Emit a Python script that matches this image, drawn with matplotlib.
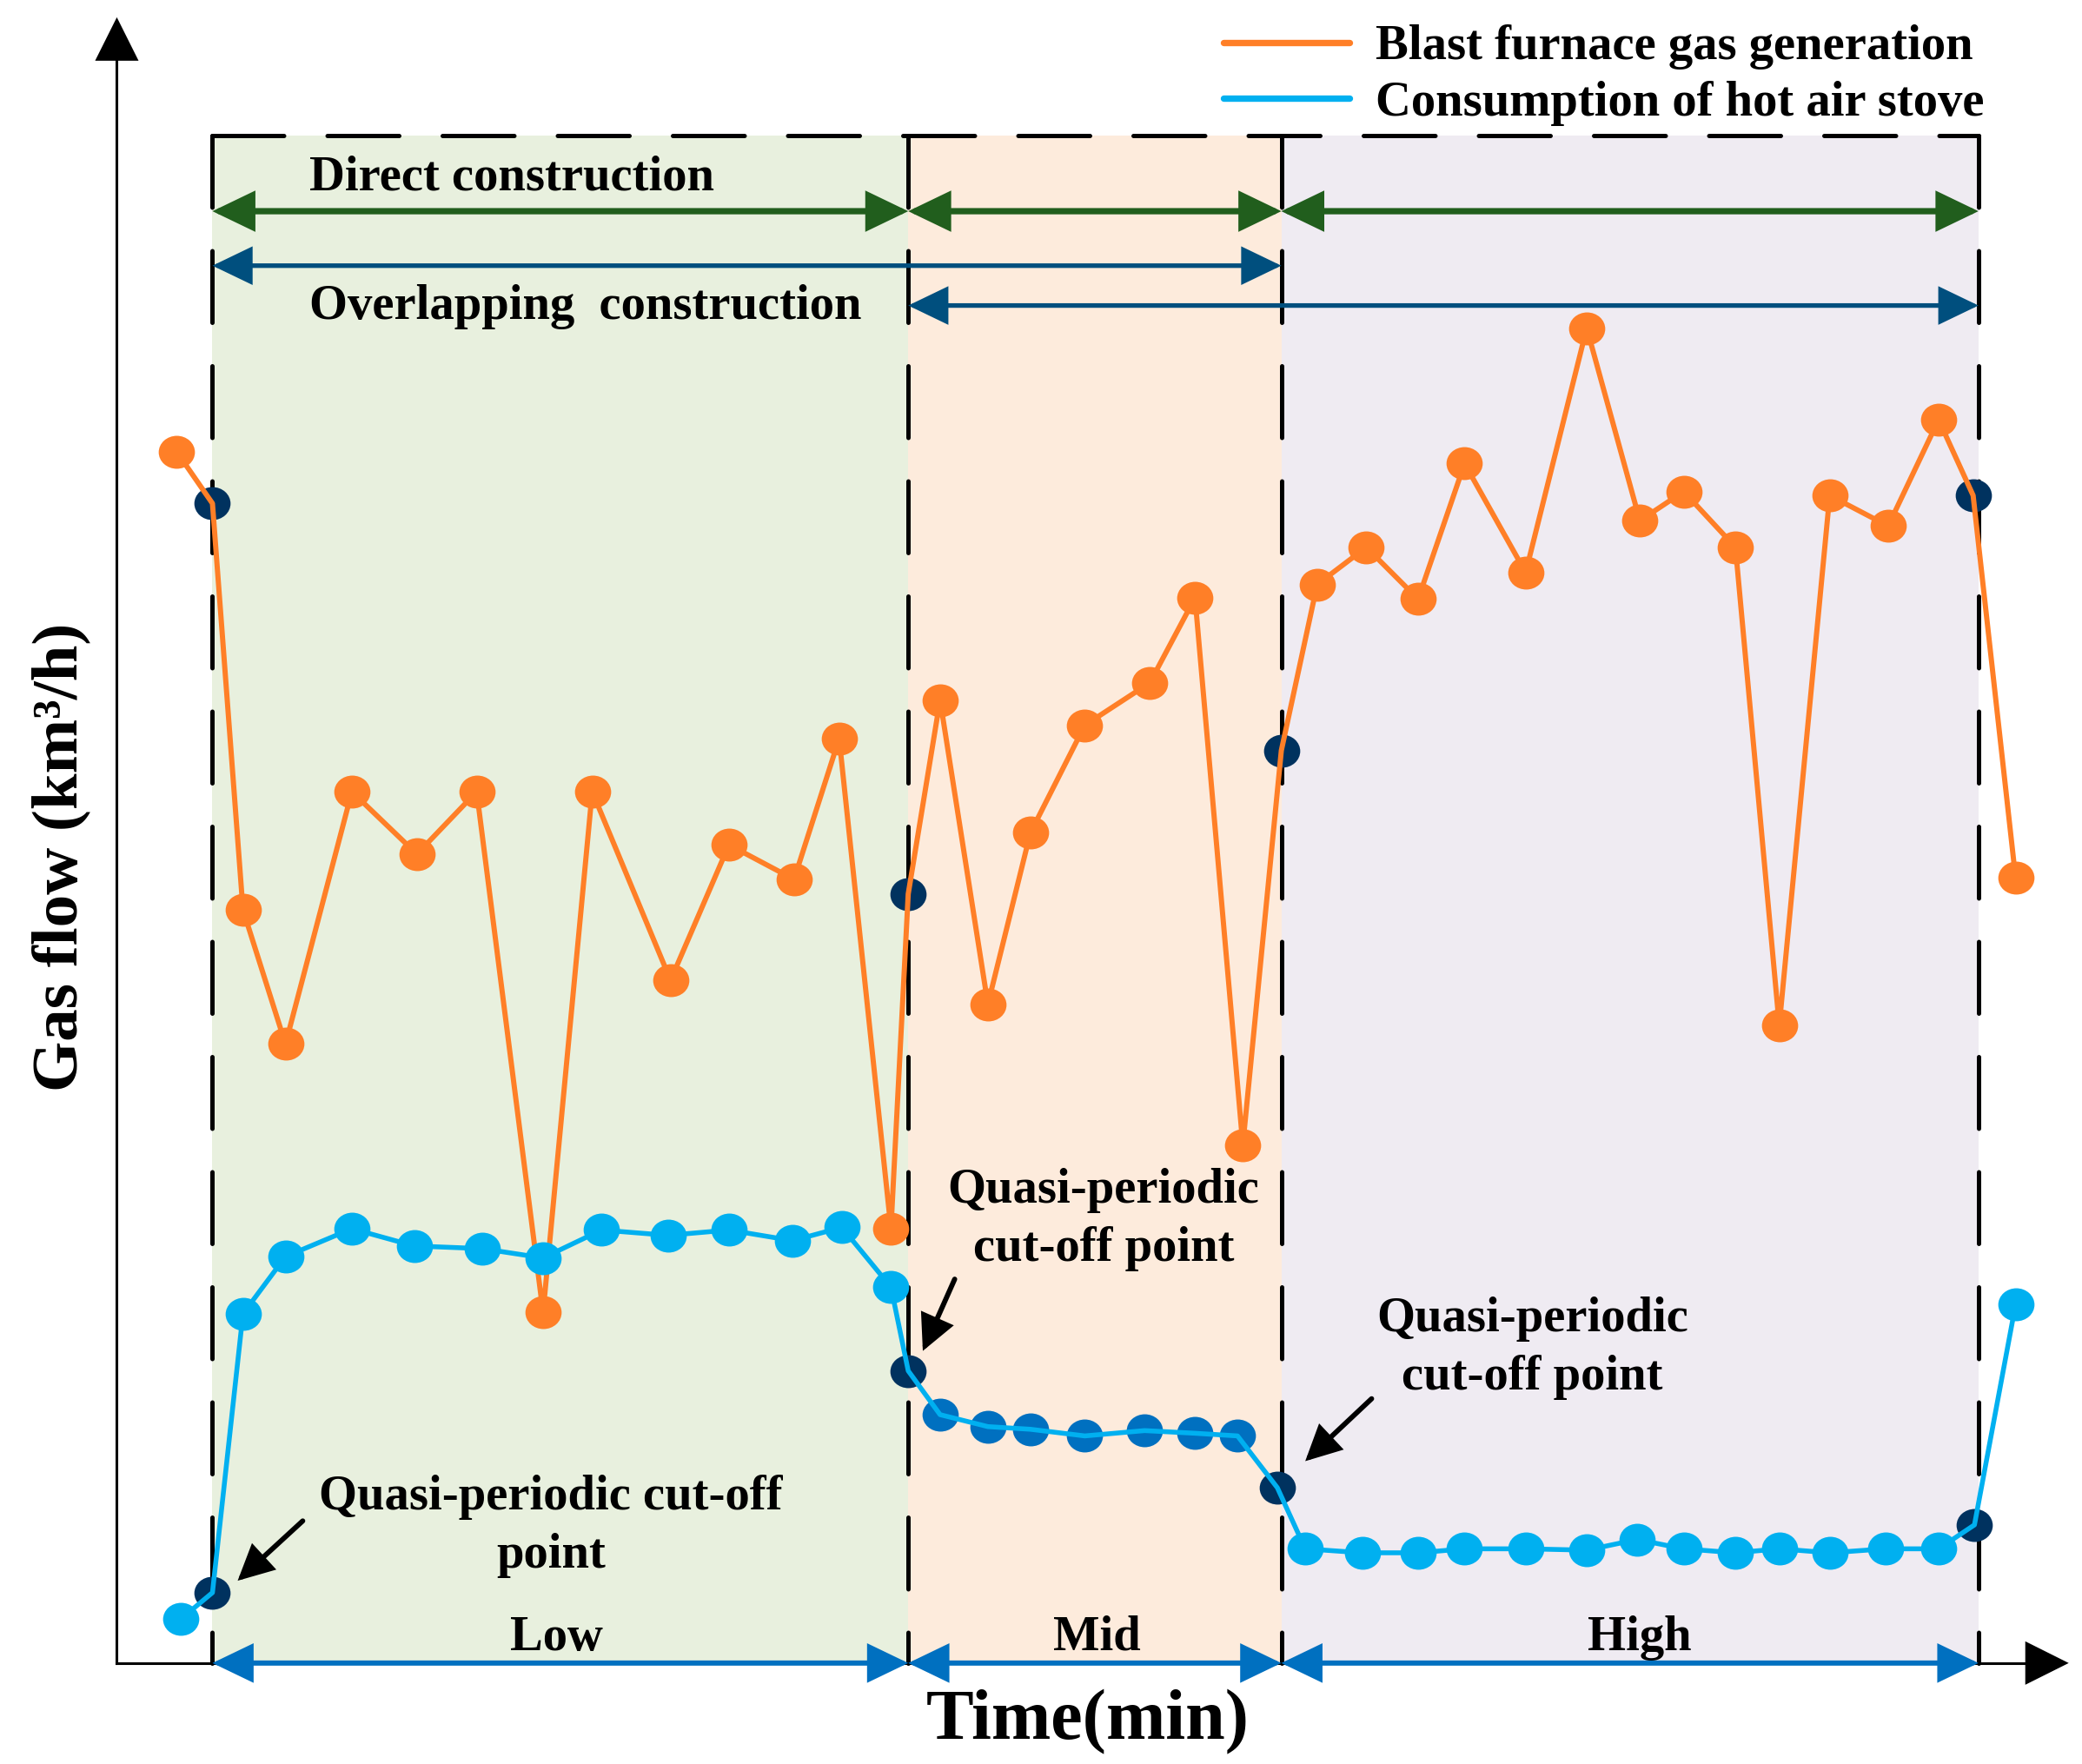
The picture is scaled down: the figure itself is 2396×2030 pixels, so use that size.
import matplotlib
matplotlib.use("Agg")
import matplotlib.pyplot as plt
from matplotlib.patches import FancyArrowPatch
from matplotlib.lines import Line2D
from matplotlib.path import Path
from matplotlib.transforms import Affine2D

plt.rcParams["font.family"] = ["Liberation Serif", "DejaVu Serif"]
plt.rcParams["font.weight"] = "bold"

# blast furnace gas generation (time in min, flow in km3/h)
t_gen = [4.5, 7.2, 9.5, 12.7, 17.7, 22.6, 27.1, 32.1, 35.8, 41.7, 46.1, 51.0, 54.4, 58.3,
         59.6, 62.0, 65.6, 68.8, 72.9, 77.8, 81.2, 84.8, 87.7, 90.4, 94.1, 98.0, 101.5,
         106.1, 110.7, 114.7, 118.0, 121.9, 125.2, 129.0, 133.4, 137.2, 139.8, 143.0]
gen = [91.2, 87.3, 56.7, 46.6, 65.6, 60.9, 65.6, 26.4, 65.6, 51.4, 61.6, 59.0, 69.6, 32.7,
       57.9, 72.5, 49.6, 62.5, 70.6, 73.8, 80.2, 39.0, 68.7, 81.2, 84.0, 80.1, 90.3,
       82.1, 100.5, 86.0, 88.2, 84.0, 48.0, 87.9, 85.6, 93.6, 87.9, 59.1]

# consumption of hot air stove
t_use = [4.8, 7.2, 9.5, 12.7, 17.7, 22.4, 27.5, 32.1, 36.5, 41.5, 46.1, 50.9, 54.6, 58.3,
         59.6, 62.0, 65.6, 68.8, 72.9, 77.4, 81.2, 84.4, 87.4, 89.5, 93.8, 98.0, 101.5,
         106.1, 110.7, 114.5, 118.0, 121.9, 125.2, 129.0, 133.2, 137.2, 139.9, 143.0]
use = [3.3, 5.3, 26.3, 30.6, 32.7, 31.4, 31.2, 30.5, 32.6, 32.2, 32.6, 31.8, 32.8, 28.3,
       22.0, 18.7, 17.8, 17.6, 17.1, 17.5, 17.3, 17.1, 13.2, 8.6, 8.3, 8.3, 8.6,
       8.6, 8.5, 9.3, 8.6, 8.3, 8.6, 8.3, 8.6, 8.6, 10.4, 27.0]

cut_idx = [1, 14, 22, 36]          # quasi-periodic cut-off points
mid_idx = list(range(15, 22))      # mid-load points of the stove series

bounds = [7.2, 59.6, 87.7, 140.2]
region_top = 115.0
regions = ["Low", "Mid", "High"]
region_colors = ["#E8F0DE", "#FDEBDC", "#EFEBF2"]
labels = ["Blast furnace gas generation", "Consumption of hot air stove"]

c_gen = "#FF7F27"
c_use = "#00B0F0"
c_mid = "#0070C0"
c_cut = "#00325F"
c_green = "#215E1D"
c_over = "#004F7E"

fig = plt.figure(figsize=(23.96, 20.30), dpi=100)
ax = fig.add_axes([0, 0, 1, 1])
ax.set_xlim(-8.8, 148.0)
ax.set_ylim(-7.6, 125.2)
ax.axis("off")

ell = Path.unit_circle().transformed(Affine2D().scale(1.0, 0.91))
ms = 30

# shaded regions and dashed borders
for i in range(3):
    ax.fill_between([bounds[i], bounds[i + 1]], 0, region_top, color=region_colors[i], lw=0, zorder=0)
dash = dict(color="black", lw=3.6, ls=(0, (16.5, 10)), dash_capstyle="round", zorder=2)
for b in bounds:
    ax.plot([b, b], [region_top, 0], **dash)
ax.plot([bounds[0], bounds[-1]], [region_top, region_top], **dash)

# axes with arrow heads
ax.plot([0, 0], [0, 121], color="black", lw=2.2, zorder=2)
ax.plot([0, 145], [0, 0], color="black", lw=2.2, zorder=2)
ax.add_patch(FancyArrowPatch((0, 118), (0, 123.9), arrowstyle="-|>,head_length=36,head_width=18",
                             mutation_scale=1, color="black", lw=0, shrinkA=0, shrinkB=0, zorder=2))
ax.add_patch(FancyArrowPatch((141, 0), (147.0, 0), arrowstyle="-|>,head_length=36,head_width=18",
                             mutation_scale=1, color="black", lw=0, shrinkA=0, shrinkB=0, zorder=2))


def darrow(x0, x1, y, color, lw):
    ax.add_patch(FancyArrowPatch((x0, y), (x1, y), arrowstyle="<|-|>,head_length=27,head_width=13",
                                 mutation_scale=1, color=color, lw=lw, shrinkA=0, shrinkB=0,
                                 joinstyle="miter", zorder=6))


for i in range(3):
    darrow(bounds[i], bounds[i + 1], 109.3, c_green, 5.2)
    darrow(bounds[i], bounds[i + 1], 0, c_mid, 4.3)
darrow(bounds[0], bounds[2], 105.2, c_over, 3.8)
darrow(bounds[1], bounds[3], 102.2, c_over, 3.8)

# data series
gen_light = [i for i in range(len(gen)) if i not in cut_idx]
use_light = [i for i in range(len(use)) if i not in cut_idx + mid_idx]

ax.plot(t_gen, gen, color=c_gen, lw=4.3, solid_capstyle="round", zorder=4)
ax.plot([t_gen[i] for i in gen_light], [gen[i] for i in gen_light], ls="none", marker=ell,
        ms=ms, color=c_gen, mew=0, zorder=4)
ax.plot([t_gen[i] for i in cut_idx], [gen[i] for i in cut_idx], ls="none", marker=ell,
        ms=ms, color=c_cut, mew=0, zorder=3)

ax.plot(t_use, use, color=c_use, lw=4.0, solid_capstyle="round", zorder=5)
ax.plot([t_use[i] for i in use_light], [use[i] for i in use_light], ls="none", marker=ell,
        ms=ms, color=c_use, mew=0, zorder=5)
ax.plot([t_use[i] for i in mid_idx], [use[i] for i in mid_idx], ls="none", marker=ell,
        ms=ms, color=c_mid, mew=0, zorder=3)
ax.plot([t_use[i] for i in cut_idx], [use[i] for i in cut_idx], ls="none", marker=ell,
        ms=ms, color=c_cut, mew=0, zorder=3)

# texts
fs = 40.8
ax.text(14.5, 110.9, "Direct construction", fontsize=fs, ha="left", va="baseline", zorder=7)
ax.text(14.5, 101.2, "Overlapping  construction", fontsize=fs, ha="left", va="baseline", zorder=7)
for i, name in enumerate(regions):
    ax.text([33.1, 73.8, 114.7][i], 1.0, name, fontsize=fs, ha="center", va="baseline", zorder=7)

notes = [("Quasi-periodic cut-off\npoint", 32.7, 7.2, (14.0, 10.7), (9.1, 6.2)),
         ("Quasi-periodic\ncut-off point", 74.3, 30.3, (63.1, 28.9), (60.7, 23.5)),
         ("Quasi-periodic\ncut-off point", 106.6, 20.6, (94.5, 19.9), (89.5, 15.2))]
for txt, x, y, tail, tip in notes:
    ax.text(x, y, txt, fontsize=fs, ha="center", va="baseline", linespacing=1.37, zorder=7)
    ax.add_patch(FancyArrowPatch(tail, tip, arrowstyle="-|>,head_length=23,head_width=11.5",
                                 mutation_scale=1, color="black", lw=4.2, shrinkA=0, shrinkB=0,
                                 capstyle="round", joinstyle="miter", zorder=7))

ax.text(73.1, -5.7, "Time(min)", fontsize=59, ha="center", va="baseline")
ax.text(-4.2, 60.7, "Gas flow (km³/h)", fontsize=54, rotation=90, ha="center", va="center")

handles = [Line2D([], [], color=c_gen, lw=5.3, solid_capstyle="round"),
           Line2D([], [], color=c_use, lw=5.3, solid_capstyle="round")]
ax.legend(handles, labels, loc="upper left", bbox_to_anchor=(0.5875, 0.986), frameon=False,
          fontsize=fs, handlelength=2.57, handletextpad=0.52, labelspacing=0.22,
          borderpad=0, borderaxespad=0)

fig.savefig("out.png", dpi=100)
